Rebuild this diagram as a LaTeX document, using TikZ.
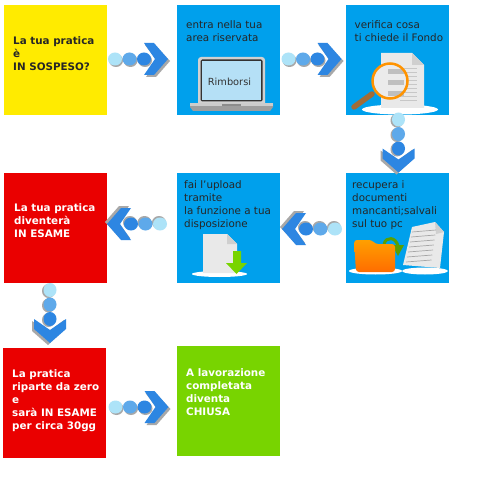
\documentclass[tikz,border=0pt]{standalone}
\usepackage{fontspec}
\setmainfont{DejaVu Sans}
\definecolor{bblue}{HTML}{00A0EC}
\definecolor{byellow}{HTML}{FFEB00}
\definecolor{bred}{HTML}{EA0000}
\definecolor{bgreen}{HTML}{78D400}
\definecolor{dl}{HTML}{ADE3F8}
\definecolor{dm}{HTML}{5EA9EA}
\definecolor{dd}{HTML}{2D86E2}
\definecolor{shad}{HTML}{A8A8A8}
\definecolor{page}{HTML}{E9E9E9}
\definecolor{fold}{HTML}{CFCFCF}
\definecolor{screenc}{HTML}{B5E0F6}
\tikzset{x=1pt,y=-1pt,
 box/.style={rectangle,minimum width=103,minimum height=110,inner sep=0,outer sep=0},
 txt/.style={anchor=north west,align=left,inner sep=0,font=\fontsize{10.35}{13}\selectfont,text=black!85},
 btxt/.style={txt,font=\fontsize{10.35}{13}\selectfont\bfseries},
}
% flow arrow pointing right, origin at centre of the first dot
\newcommand{\flowarrow}[3]{% x y rotation
 \begin{scope}[shift={(#1,#2)},rotate=#3]
  \fill[shad] (30,-14) -- (40,-14) -- (55,2) -- (41,18) -- (31,18) -- (42,2) -- cycle;
  \fill[dd] (29,-16) -- (39,-16) -- (53,0) -- (39,16) -- (29,16) -- (40,0) -- cycle;
  \fill[shad] (1,1.5) ellipse (7 and 6.5);
  \fill[dl] (0,0) ellipse (7 and 6.5);
  \fill[shad] (15.5,1.5) ellipse (7 and 6.5);
  \fill[dm] (14.5,0) ellipse (7 and 6.5);
  \fill[shad] (30,1.5) ellipse (7 and 6.5);
  \fill[dd] (29,0) ellipse (7 and 6.5);
 \end{scope}}
\begin{document}
\begin{tikzpicture}
\useasboundingbox (0,0) rectangle (500,500);
\fill[white] (0,0) rectangle (500,500);
\node[box,fill=byellow] (a) at (55,60.5) {};
\node[box,fill=bblue] (b) at (228.5,60.5) {};
\node[box,fill=bblue] (c) at (397,60.5) {};
\node[box,fill=bblue] (d) at (397,227.5) {};
\node[box,fill=bblue] (e) at (228,227.5) {};
\node[box,fill=bred] (f) at (55.5,227.5) {};
\node[box,fill=bred] (g) at (54.5,403) {};
\node[box,fill=bgreen] (h) at (228.5,401) {};
\node[btxt] at (13,36) {La tua pratica\\è\\IN SOSPESO?};
\node[txt] at (186,20) {entra nella tua\\area riservata};
\node[txt] at (354.5,20) {verifica cosa\\ti chiede il Fondo};
\node[txt] at (352,180) {recupera i\\documenti\\mancanti;salvali\\sul tuo pc};
\node[txt] at (184,180) {fai l’upload\\tramite\\la funzione a tua\\disposizione};
\node[btxt,text=white] at (14,203) {La tua pratica\\diventerà\\IN ESAME};
\node[btxt,text=white] at (12,369) {La pratica\\riparte da zero\\e\\sarà IN ESAME\\per circa 30gg};
\node[btxt,text=white] at (186,368) {A lavorazione\\completata\\diventa\\CHIUSA};
% laptop
\fill[black!18,rounded corners=3] (198,57) rectangle (265,106);
\fill[black!80,rounded corners=1.5] (200.5,59.5) rectangle (262.5,101.5);
\fill[screenc] (202,61) rectangle (261,100);
\node[font=\fontsize{9.8}{11}\selectfont,text=black!80] (r) at (229.5,81.5) {Rimborsi};
\fill[black!38] (190,103.5) -- (273,103.5) -- (273,107) -- (270,111) -- (193,111) -- (190,107) -- cycle;
\fill[black!20] (190,103.5) rectangle (273,106.5);
\fill[black!45] (222,104.5) rectangle (241,106.5);
% document + loupe
\fill[white] (400,109.5) ellipse (38 and 5);
\fill[page] (381,53) -- (412,53) -- (424,65) -- (424,108) -- (381,108) -- cycle;
\fill[fold] (412,53) -- (424,65) -- (412,65) -- cycle;
\foreach \yy in {68,72,76,80,84,88,92,96,100} \fill[black!22] (400,\yy) rectangle (417,\yy+1);
\draw[line width=5.5,line cap=round,brown!85!black] (354,107) -- (372,94);
\fill[black!8] (390,81) circle (18);
\foreach \yy in {69,80,91} \fill[black!25] (388,\yy) rectangle (404,\yy+5);
\draw[orange!85!yellow,line width=2.5] (390,81) circle (17.5);
\flowarrow{115}{59}{0}
\flowarrow{288.5}{59}{0}
\flowarrow{398.5}{119.5}{-90}
\flowarrow{335}{229}{180}
\flowarrow{160}{224}{180}
\flowarrow{50}{290}{-90}
\flowarrow{115.5}{407}{0}
% download doc
\fill[white] (219.5,274) ellipse (27.5 and 3);
\fill[page] (203,234) -- (227,234) -- (237,244) -- (237,273) -- (203,273) -- cycle;
\fill[fold] (227,234) -- (237,244) -- (227,244) -- cycle;
\fill[bgreen] (233,251) -- (241,251) -- (241,263) -- (247,263) -- (236.5,274) -- (226,263) -- (233,263) -- cycle;
% folder + sheet
\fill[white] (425,271) ellipse (23 and 3.5);
\fill[page] (412,227) -- (435,222) -- (444,232) -- (440,268) -- (403,265) -- cycle;
\fill[fold] (435,222) -- (444,232) -- (436,234) -- cycle;
\foreach \yy in {0,5,10,15,20,25,30} \draw[black!35,line width=.7] (412-.2*\yy,232+\yy) -- (436-.15*\yy,230+\yy);
\fill[white] (375.5,271) ellipse (26.5 and 3.5);
\draw[bgreen!75!black,line width=3] (384,244) .. controls (386,236) and (396,237) .. (398,246);
\fill[bgreen!75!black] (392,245) -- (404,245) -- (398,256) -- cycle;
\shade[top color=orange!75!yellow,bottom color=orange!85!red,rounded corners=3] (354,240) -- (372,240) -- (375,244) -- (395,244) -- (395,272) -- (356,272) -- cycle;
\end{tikzpicture}
\end{document}
